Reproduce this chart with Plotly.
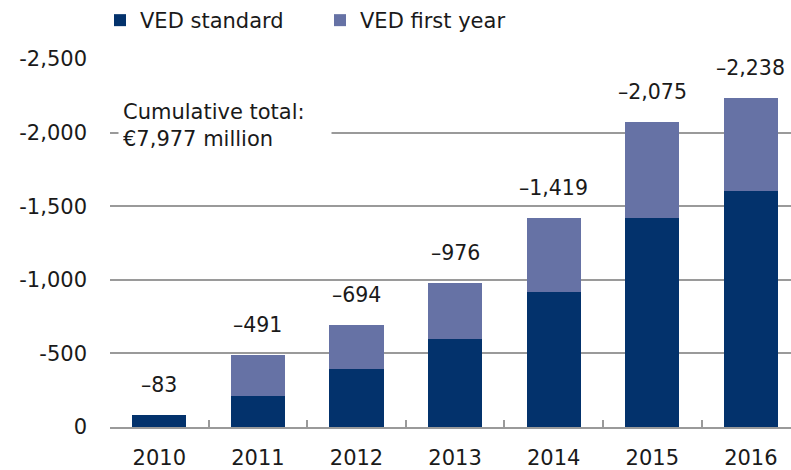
import plotly.graph_objects as go

years = ["2010", "2011", "2012", "2013", "2014", "2015", "2016"]
ved_standard = [83, 211, 395, 596, 918, 1418, 1602]
ved_first_year = [0, 280, 299, 380, 501, 657, 636]
totals = [83, 491, 694, 976, 1419, 2075, 2238]
total_labels = ["–83", "–491", "–694", "–976", "–1,419", "–2,075", "–2,238"]
y_tickvals = [0, 500, 1000, 1500, 2000, 2500]
y_ticktext = ["0", "-500", "-1,000", "-1,500", "-2,000", "-2,500"]
note_text = "Cumulative total:<br>€7,977 million"

DARK = "#03326c"
LIGHT = "#6672a5"
GRID = "#9a9a9a"
FONT = "DejaVu Sans"
TXT = "#1a1a1a"

W, H = 791, 470
ML, MT, MB = 110, 59, 43
PW = W - ML
PH = H - MT - MB

fig = go.Figure()
fig.add_trace(go.Bar(x=years, y=ved_standard, name="VED standard",
                     marker=dict(color=DARK, line=dict(width=0)), width=0.55))
fig.add_trace(go.Bar(x=years, y=ved_first_year, name="VED first year",
                     marker=dict(color=LIGHT, line=dict(width=0)), width=0.55))

for i, (tot, lab) in enumerate(zip(totals, total_labels)):
    fig.add_annotation(xref="x", yref="y", x=i, y=tot, text=lab, showarrow=False,
                       yanchor="bottom", yshift=16,
                       font=dict(family=FONT, size=20.5, color=TXT))

fig.add_annotation(xref="paper", yref="y", x=(118 - ML) / PW, y=2045,
                   yanchor="middle", xanchor="left", align="left",
                   text=note_text, showarrow=False,
                   bgcolor="white", borderpad=4, width=204,
                   font=dict(family=FONT, size=21, color=TXT))

fig.update_layout(
    width=W, height=H,
    margin=dict(l=ML, r=0, t=MT, b=MB, pad=0),
    barmode="stack",
    plot_bgcolor="white", paper_bgcolor="white",
    font=dict(family=FONT, size=21, color=TXT),
    showlegend=True,
    legend=dict(orientation="h", traceorder="normal",
                x=-(ML - 100) / PW, y=1.0 + (MT - 0) / PH,
                xanchor="left", yanchor="top", entrywidth=175,
                entrywidthmode="pixels", itemwidth=30,
                font=dict(family=FONT, size=21, color=TXT),
                bgcolor="rgba(0,0,0,0)"),
    xaxis=dict(type="category", range=[-0.5, 6.407], showgrid=False, showline=True,
               linecolor=GRID, linewidth=2, ticks="inside", tickson="boundaries",
               ticklen=7, tickcolor=GRID, tickwidth=2, ticklabelstandoff=11,
               tickfont=dict(family=FONT, size=21, color=TXT)),
    yaxis=dict(range=[0, 2500], tickvals=y_tickvals, ticktext=y_ticktext,
               showgrid=True, gridcolor=GRID, gridwidth=2, zeroline=False,
               showline=False, ticks="", ticklabelstandoff=22,
               tickfont=dict(family=FONT, size=21, color=TXT)),
)

fig.write_html("out.html", config={"displayModeBar": False},
               post_script="document.body.style.margin='0px';")
